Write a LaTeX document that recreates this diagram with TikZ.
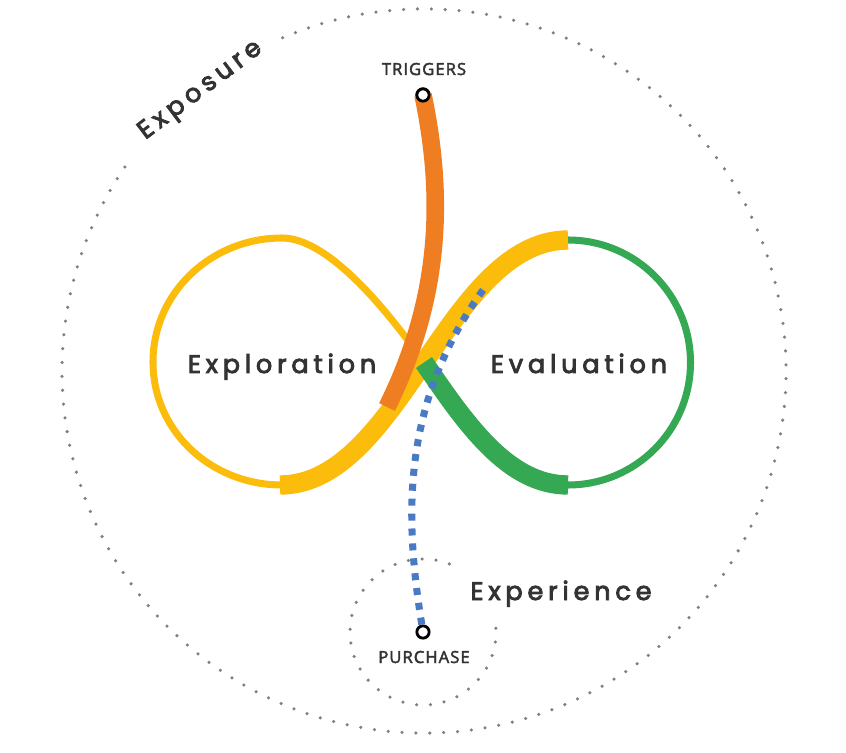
\documentclass[tikz,border=0pt]{standalone}
\usepackage{fontspec}
\usepackage{tikz}
\usetikzlibrary{arrows.meta, positioning}
\newfontfamily\stagefont[LetterSpace=19,FakeBold=3.5]{Poppins}
\newfontfamily\pinfont[LetterSpace=6,FakeBold=2.5]{Open Sans}
\definecolor{loopyellow}{HTML}{FBBC0C}
\definecolor{loopgreen}{HTML}{34A853}
\definecolor{triggerorange}{HTML}{EF7D22}
\definecolor{pathblue}{HTML}{4A7AC4}
\definecolor{dotgray}{HTML}{808080}
\definecolor{labelgray}{HTML}{333333}

\begin{document}
\begin{tikzpicture}[x=0.02cm,y=-0.02cm,stage/.style={font=\stagefont\fontsize{14.5}{16}\selectfont,text=labelgray,inner sep=0pt},pin/.style={font=\pinfont\fontsize{9.5}{11}\selectfont,text=labelgray,inner sep=0pt,anchor=base},marker/.style={circle,draw=black,fill=white,line width=1.6pt,minimum size=7pt,inner sep=0pt},thinloop/.style={line width=4pt},thickband/.style={line width=11pt},dotring/.style={dotgray,line width=2pt,line cap=round,dash pattern=on 0pt off 7.9pt}]
\useasboundingbox (0,0) rectangle (846,753);
\coordinate (hub) at (424,371);
\coordinate (cross) at (424,362.5);
\coordinate (exptop) at (282,238);
\coordinate (expbot) at (282,485);
\coordinate (evaltop) at (568,240);
\coordinate (evalbot) at (568,485);
\coordinate (trigend) at (387,407);
\coordinate (buyend) at (483,290);
% outer and inner rings
\draw[dotring] (hub) ++(247:362) arc[start angle=247,end angle=575,radius=362];
\draw[dotring] (423,632) ++(-3:73) arc[start angle=-3,end angle=293,radius=73];
% the loop
\draw[thinloop,loopyellow] (cross) .. controls (380,300) and (325,238) .. (exptop) .. controls (211,238) and (153,293) .. (153,362) .. controls (153,431) and (211,485) .. (expbot);
\draw[thinloop,loopgreen] (evalbot) arc[start angle=90,end angle=-90,radius=122.5];
\draw[thickband,loopyellow] (280,485) .. controls (400,485) and (448,240) .. (evaltop);
\draw[thickband,loopgreen] (cross) .. controls (466,424) and (508,485) .. (evalbot);
\node[marker] (trig) at (423,95) {};
\node[marker] (buy) at (423,632) {};
\draw[pathblue,line width=4pt,dash pattern=on 4pt off 4.5pt] (buy) .. controls (405,520) and (400,405) .. (buyend);
\draw[triggerorange,line width=10pt] (trig.center) .. controls (445,200) and (440,300) .. (trigend);
\node[marker] (trigdot) at (trig) {};
% labels
\node[stage,anchor=base] (exploration) at (282,373) {Exploration};
\node[stage,anchor=base] (evaluation) at (579,373) {Evaluation};
\node[stage,anchor=base] (experience) at (561,600) {Experience};
\node[stage,rotate=37] (exposure) at (201,91) {Exposure};
\node[pin] (triggers) at (424,75) {TRIGGERS};
\node[pin] (purchase) at (424,663) {PURCHASE};
\end{tikzpicture}
\end{document}
